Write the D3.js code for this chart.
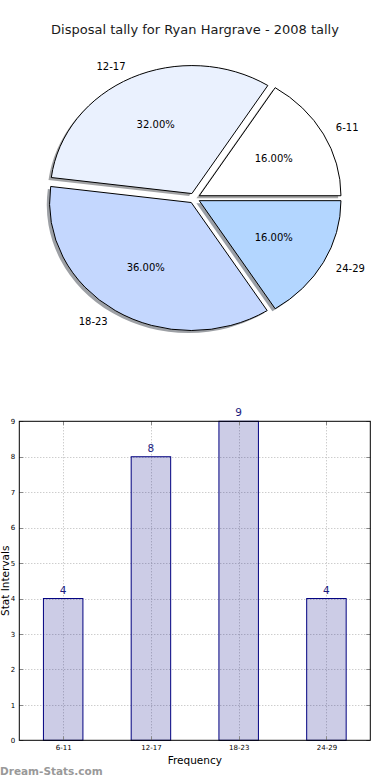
<!DOCTYPE html>
<html>
<head>
<meta charset="utf-8">
<title>Disposal tally for Ryan Hargrave - 2008 tally</title>
<script src="https://d3js.org/d3.v7.min.js"></script>
<style>
body {margin:0; background:white;}
svg {display:block; font-family:"DejaVu Sans", sans-serif;}
</style>
</head>
<body>
<svg width="390" height="780"></svg>
<script>
// data
var categories = ["6-11", "12-17", "18-23", "24-29"];
var counts = [4, 8, 9, 4];
var pieColors = ["#ffffff", "#eaf1fe", "#c4d7fe", "#b3d6ff"];
var yTicks = [0, 1, 2, 3, 4, 5, 6, 7, 8, 9];

var svg = d3.select("svg");

svg.append("text")
  .attr("x", 195).attr("y", 34)
  .attr("text-anchor", "middle")
  .style("font-size", "13px")
  .attr("fill", "#1a1a1a")
  .text("Disposal tally for Ryan Hargrave - 2008 tally");

// ---- pie (elliptical, exploded, with shadow) ----
var cx = 194.3, cy = 198.2, rx = 141.7, ry = 128;
var sx = rx / ry;
var explode = 0.04;
var total = d3.sum(counts);

// counter-clockwise from 3 o'clock like matplotlib
var pie = d3.pie().sort(null).startAngle(Math.PI / 2).endAngle(Math.PI / 2 - 2 * Math.PI);
var arcs = pie(counts);
var arc = d3.arc().innerRadius(0).outerRadius(ry);

var pieG = svg.append("g");

arcs.forEach(function(a, i) {
  var mid = (a.startAngle + a.endAngle) / 2;
  var theta = Math.PI / 2 - mid;
  var ox = explode * rx * Math.cos(theta);
  var oy = -explode * ry * Math.sin(theta);
  var base = d3.rgb(pieColors[i]);
  var shadowCol = d3.rgb(base.r * 0.3, base.g * 0.3, base.b * 0.3);

  pieG.append("path")
    .attr("d", arc(a))
    .attr("transform", "translate(" + (cx + ox - 2.8) + "," + (cy + oy + 2.5) + ") scale(" + sx + ",1)")
    .attr("fill", shadowCol)
    .attr("fill-opacity", 0.5);

  pieG.append("path")
    .attr("d", arc(a))
    .attr("transform", "translate(" + (cx + ox) + "," + (cy + oy) + ") scale(" + sx + ",1)")
    .attr("fill", pieColors[i])
    .attr("stroke", "#000")
    .attr("stroke-width", 1)
    .attr("vector-effect", "non-scaling-stroke")
    .attr("stroke-linejoin", "round");

  var lx = cx + ox + 1.1 * rx * Math.cos(theta);
  var ly = cy + oy - 1.1 * ry * Math.sin(theta);
  pieG.append("text")
    .attr("x", lx).attr("y", ly)
    .attr("dy", "0.35em")
    .attr("text-anchor", Math.cos(theta) > 0 ? "start" : "end")
    .style("font-size", "10px")
    .text(categories[i]);

  var px = cx + ox + 0.6 * rx * Math.cos(theta);
  var py = cy + oy - 0.6 * ry * Math.sin(theta);
  pieG.append("text")
    .attr("x", px).attr("y", py)
    .attr("dy", "0.35em")
    .attr("text-anchor", "middle")
    .style("font-size", "10px")
    .text(d3.format(".2f")(a.data / total * 100) + "%");
});

// ---- bar chart ----
var plotL = 19.3, plotR = 370.3, plotT = 421.3, plotB = 740.3;
var x = d3.scalePoint().domain(categories).range([plotL, plotR]).padding(0.5);
var y = d3.scaleLinear().domain([0, 9]).range([plotB, plotT]);
var barW = x.step() * 0.45;

var grid = svg.append("g")
  .attr("stroke", "#b8b8b8")
  .attr("stroke-width", 1)
  .attr("stroke-dasharray", "1,2");
grid.selectAll(".hg").data(yTicks.slice(1, -1)).enter().append("line")
  .attr("x1", plotL).attr("x2", plotR)
  .attr("y1", function(d) { return Math.round(y(d)) + 0.5; })
  .attr("y2", function(d) { return Math.round(y(d)) + 0.5; });

var bars = svg.append("g");
bars.selectAll("rect").data(counts).enter().append("rect")
  .attr("x", function(d, i) { return x(categories[i]) - barW / 2; })
  .attr("width", barW)
  .attr("y", function(d) { return y(d); })
  .attr("height", function(d) { return plotB - y(d); })
  .attr("fill", "navy").attr("fill-opacity", 0.2)
  .attr("stroke", "navy").attr("stroke-width", 1);

grid.selectAll(".vg").data(categories).enter().append("line")
  .attr("x1", function(d) { return Math.round(x(d)) + 0.5; })
  .attr("x2", function(d) { return Math.round(x(d)) + 0.5; })
  .attr("y1", plotT).attr("y2", plotB);

bars.selectAll("text").data(counts).enter().append("text")
  .attr("x", function(d, i) { return x(categories[i]); })
  .attr("y", function(d) { return y(d) - 5; })
  .attr("text-anchor", "middle")
  .attr("fill", "#1c1c80")
  .style("font-size", "10.5px")
  .text(function(d) { return d; });

// ticks (inward, all four sides)
var ticks = svg.append("g").attr("stroke", "#888").attr("stroke-width", 1);
yTicks.forEach(function(t) {
  var yy = Math.round(y(t)) + 0.5;
  ticks.append("line").attr("x1", plotL).attr("x2", plotL + 4).attr("y1", yy).attr("y2", yy);
  ticks.append("line").attr("x1", plotR - 4).attr("x2", plotR).attr("y1", yy).attr("y2", yy);
});
categories.forEach(function(c) {
  var xx = Math.round(x(c)) + 0.5;
  ticks.append("line").attr("x1", xx).attr("x2", xx).attr("y1", plotB).attr("y2", plotB - 4);
  ticks.append("line").attr("x1", xx).attr("x2", xx).attr("y1", plotT).attr("y2", plotT + 4);
});

svg.append("rect")
  .attr("x", plotL).attr("y", plotT)
  .attr("width", plotR - plotL).attr("height", plotB - plotT)
  .attr("fill", "none").attr("stroke", "#000").attr("stroke-width", 1);

var yAxis = d3.axisLeft(y).tickValues(yTicks).tickSize(0).tickPadding(4);
svg.append("g")
  .attr("transform", "translate(" + plotL + ",0)")
  .call(yAxis)
  .call(function(g) { g.select(".domain").remove(); })
  .selectAll("text").style("font-size", "7px").attr("fill", "#000")
  .style("font-family", "DejaVu Sans");

var xAxis = d3.axisBottom(x).tickSize(0).tickPadding(5);
svg.append("g")
  .attr("transform", "translate(0," + plotB + ")")
  .call(xAxis)
  .call(function(g) { g.select(".domain").remove(); })
  .selectAll("text").style("font-size", "7px").attr("fill", "#000")
  .style("font-family", "DejaVu Sans");

svg.append("text")
  .attr("x", (plotL + plotR) / 2).attr("y", 764)
  .attr("text-anchor", "middle")
  .style("font-size", "10.5px")
  .text("Frequency");

svg.append("text")
  .attr("transform", "translate(8.5," + ((plotT + plotB) / 2) + ") rotate(-90)")
  .attr("text-anchor", "middle")
  .style("font-size", "10.5px")
  .text("Stat Intervals");

svg.append("text")
  .attr("x", 0).attr("y", 775)
  .attr("fill", "#999")
  .style("font-size", "10.5px")
  .style("font-weight", "bold")
  .text("Dream-Stats.com");
</script>
</body>
</html>
